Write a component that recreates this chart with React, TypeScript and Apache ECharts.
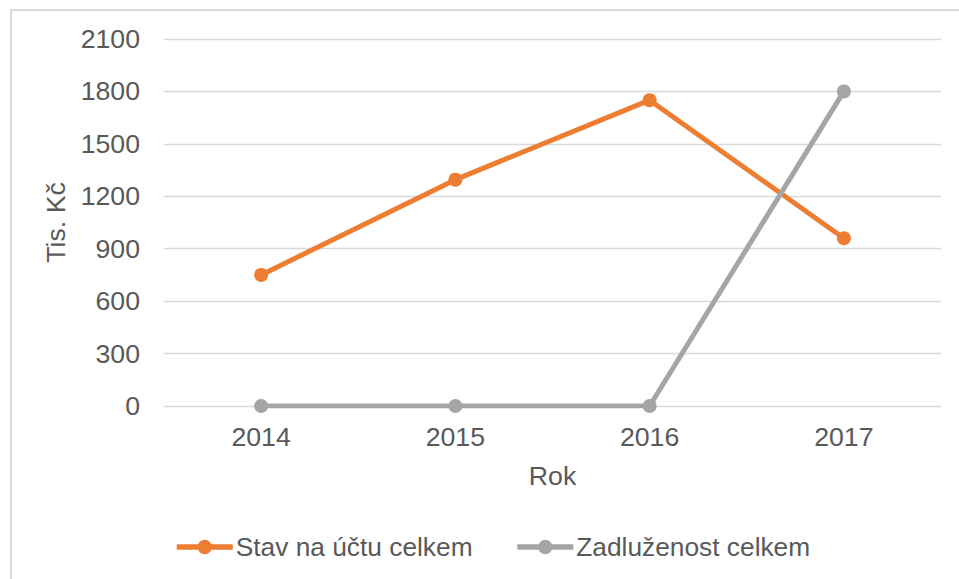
import React, { useEffect, useRef } from "react";
import * as echarts from "echarts";

const years = ["2014", "2015", "2016", "2017"];
const stavNaUctu = [750, 1295, 1750, 960];
const zadluzenost = [0, 0, 0, 1800];
const seriesNames = ["Stav na účtu celkem", "Zadluženost celkem"];

export default function App() {
  const ref = useRef<HTMLDivElement>(null);
  useEffect(() => {
    if (!ref.current) return;
    const chart = echarts.init(ref.current, undefined, { renderer: "svg" });
    const font = "Liberation Sans, Arial, sans-serif";
    const fs = 26.7;
    const txt = "#595959";
    chart.setOption({
      animation: false,
      backgroundColor: "#ffffff",
      textStyle: { fontFamily: font },
      graphic: [
        {
          type: "rect",
          shape: { x: 11, y: 10, width: 1000, height: 1000 },
          style: { fill: "none", stroke: "#d9d9d9", lineWidth: 2 },
          silent: true,
        },
      ],
      grid: { left: 164, right: 18, top: 39, bottom: 173 },
      legend: {
        left: 174,
        top: 534,
        padding: 0,
        itemWidth: 56,
        itemHeight: 18,
        itemGap: 42,
        lineStyle: { width: 5.5 },
        textStyle: { fontSize: 26.3, color: txt, fontFamily: font, padding: [0, 0, 0, -2] },
        data: seriesNames,
      },
      xAxis: {
        type: "category",
        data: years,
        name: "Rok",
        nameLocation: "middle",
        nameGap: 56,
        nameTextStyle: { fontSize: fs, color: txt, fontFamily: font },
        axisLine: { show: false },
        axisTick: { show: false },
        axisLabel: { fontSize: fs, color: txt, margin: 17, fontFamily: font },
      },
      yAxis: {
        type: "value",
        min: 0,
        max: 2100,
        interval: 300,
        name: "Tis. Kč",
        nameLocation: "middle",
        nameGap: 92,
        nameTextStyle: { fontSize: fs, color: txt, fontFamily: font },
        axisLine: { show: false },
        axisTick: { show: false },
        axisLabel: {
          fontSize: fs,
          color: txt,
          margin: 24,
          fontFamily: font,
          formatter: (v: number) => String(v),
        },
        splitLine: { lineStyle: { color: "#d9d9d9", width: 1.3 } },
      },
      series: [
        {
          name: seriesNames[0],
          type: "line",
          data: stavNaUctu,
          symbol: "circle",
          symbolSize: 14,
          itemStyle: { color: "#ED7D31" },
          lineStyle: { color: "#ED7D31", width: 5 },
        },
        {
          name: seriesNames[1],
          type: "line",
          data: zadluzenost,
          symbol: "circle",
          symbolSize: 14,
          itemStyle: { color: "#A5A5A5" },
          lineStyle: { color: "#A5A5A5", width: 5 },
        },
      ],
    });
    return () => chart.dispose();
  }, []);
  return (
    <div
      ref={ref}
      style={{ position: "absolute", left: 0, top: 0, width: 959, height: 579 }}
    />
  );
}
